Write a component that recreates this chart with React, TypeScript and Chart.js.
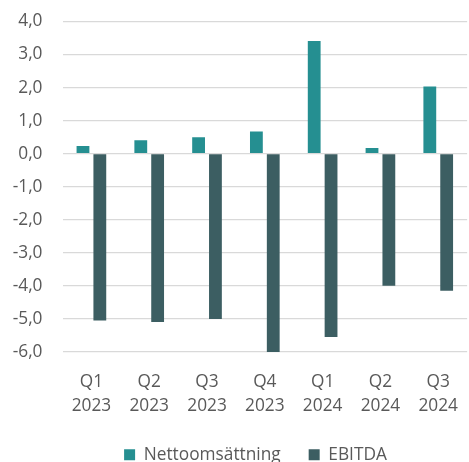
import React, { useEffect, useRef } from "react";
import { Chart, registerables } from "chart.js";

Chart.register(...registerables);

const categories: string[][] = [
  ["Q1", "2023"],
  ["Q2", "2023"],
  ["Q3", "2023"],
  ["Q4", "2023"],
  ["Q1", "2024"],
  ["Q2", "2024"],
  ["Q3", "2024"],
];
const nettoomsattning: number[] = [0.23, 0.41, 0.5, 0.67, 3.41, 0.17, 2.03];
const ebitda: number[] = [-5.05, -5.09, -5.0, -6.04, -5.55, -4.0, -4.15];
const seriesNames: string[] = ["Nettoomsättning", "EBITDA"];
const yMin = -6;
const yMax = 4;

const FONT = "'Open Sans', 'Noto Sans', sans-serif";
const FS = 17.3;
const TEXT = "#595959";
const LEGEND_DX = 17.5;
const LEGEND_DY = -17.5;

const moveLegend = {
  id: "moveLegend",
  afterLayout(chart: any) {
    const lg = chart.legend;
    if (!lg) return;
    lg.left += LEGEND_DX;
    lg.right += LEGEND_DX;
    lg.top += LEGEND_DY;
    lg.bottom += LEGEND_DY;
  },
};

export default function App() {
  const ref = useRef<HTMLCanvasElement | null>(null);
  useEffect(() => {
    document.body.style.margin = "0";
    document.body.style.overflow = "hidden";
    if (!ref.current) return;
    const chart = new Chart(ref.current, {
      type: "bar",
      data: {
        labels: categories,
        datasets: [
          {
            label: seriesNames[0],
            data: nettoomsattning,
            backgroundColor: "#258f91",
            borderWidth: 0,
            categoryPercentage: 0.583,
            barPercentage: 0.76,
          },
          {
            label: seriesNames[1],
            data: ebitda,
            backgroundColor: "#3c5e62",
            borderWidth: 0,
            categoryPercentage: 0.583,
            barPercentage: 0.76,
          },
        ],
      },
      plugins: [moveLegend],
      options: {
        animation: false,
        responsive: false,
        maintainAspectRatio: false,
        layout: { padding: { top: 21.5, right: 0, left: 0, bottom: 0 } },
        plugins: {
          tooltip: { enabled: false },
          legend: {
            position: "bottom",
            labels: {
              boxWidth: 11,
              boxHeight: 11,
              padding: 28,
              color: TEXT,
              font: { family: FONT, size: FS },
            },
          },
        },
        scales: {
          x: {
            grid: { display: false, drawTicks: false },
            border: { display: false },
            ticks: {
              color: TEXT,
              font: { family: FONT, size: FS, lineHeight: 1.38 },
              padding: 18,
              maxRotation: 0,
              autoSkip: false,
            },
          },
          y: {
            min: yMin,
            max: yMax,
            afterFit: (s: any) => {
              s.width = 62.5;
              s.paddingTop = 0;
              s.paddingBottom = 0;
            },
            grid: { color: "#d9d9d9", lineWidth: 1.3, drawTicks: false },
            border: { display: false },
            ticks: {
              stepSize: 1,
              color: TEXT,
              padding: 20,
              font: { family: FONT, size: FS },
              callback: (v: any) => Number(v).toFixed(1).replace(".", ","),
            },
          },
        },
      },
    });
    return () => chart.destroy();
  }, []);
  return (
    <div style={{ position: "absolute", left: 0, top: 0, width: 476, height: 491 }}>
      <canvas ref={ref} width={476} height={491} />
    </div>
  );
}
